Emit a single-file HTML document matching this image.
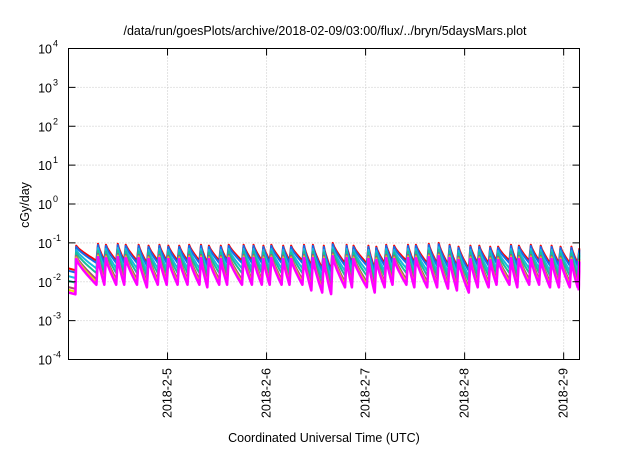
<!DOCTYPE html>
<html><head><meta charset="utf-8"><style>
body{margin:0;background:#fff;}
svg text{font-family:"Liberation Sans",sans-serif;fill:#000;}
</style></head><body>
<svg id="chart" width="640" height="448" viewBox="0 0 640 448" xmlns="http://www.w3.org/2000/svg">
<text x="325" y="35" font-size="12.5" text-anchor="middle">/data/run/goesPlots/archive/2018-02-09/03:00/flux/../bryn/5daysMars.plot</text>
<g id="grid"></g>
<g id="series"></g>
<rect x="68.5" y="48.5" width="511" height="311" fill="none" stroke="#000" stroke-width="1"/>
<g id="axes"></g>
<text transform="translate(29,205) rotate(-90)" font-size="12.5" text-anchor="middle">cGy/day</text>
<text x="324" y="442" font-size="12.5" text-anchor="middle">Coordinated Universal Time (UTC)</text>
</svg>
<script>
// data
const xTickDays = [1, 2, 3, 4, 5];
const xTickLabels = ["2018-2-5", "2018-2-6", "2018-2-7", "2018-2-8", "2018-2-9"];
const yTickExps = [-4, -3, -2, -1, 0, 1, 2, 3, 4];
const spikeDays = [0.07,0.29,0.37,0.49,0.57,0.70,0.80,0.91,1.00,1.11,1.21,1.33,1.41,1.53,1.61,1.76,1.86,1.96,2.04,2.16,2.24,2.37,2.46,2.57,2.66,2.80,2.87,3.02,3.10,3.20,3.28,3.42,3.50,3.63,3.73,3.84,3.93,4.05,4.14,4.25,4.33,4.46,4.54,4.66,4.76,4.87,4.96,5.07,5.15];
const spikePeaks = [0.085,0.095,0.09,0.095,0.09,0.09,0.085,0.09,0.085,0.085,0.09,0.09,0.085,0.085,0.09,0.09,0.09,0.085,0.09,0.085,0.085,0.09,0.09,0.085,0.1,0.09,0.085,0.085,0.08,0.09,0.085,0.09,0.09,0.095,0.1,0.09,0.08,0.085,0.085,0.08,0.08,0.09,0.085,0.09,0.085,0.085,0.08,0.08,0.07];
const spikeTroughs = [0.035,0.035,0.035,0.035,0.035,0.03,0.035,0.035,0.035,0.035,0.035,0.03,0.035,0.035,0.035,0.035,0.035,0.035,0.035,0.035,0.035,0.025,0.022,0.02,0.03,0.03,0.03,0.022,0.03,0.035,0.035,0.03,0.03,0.03,0.028,0.025,0.022,0.03,0.03,0.035,0.035,0.03,0.035,0.035,0.03,0.03,0.03,0.03,0.025];
const initialLevel = 0.022;
const seriesNames = ["red","blue","cyan","teal","brown","yellow","magenta"];
const seriesColors = ["#ff0000","#1a6ae8","#18b8e0","#18c098","#a0507a","#e8e000","#ff00ff"];
const seriesLogOffsets = [0, -0.06, -0.2, -0.32, -0.48, -0.55, -0.62];

const X0=68.5, X1=579.5, Y0=48.5, Y1=359.5, DAYS=5.16;
const xs = d => X0 + d/DAYS*(X1-X0);
const ys = v => Y1 - (Math.log10(v)+4)/8*(Y1-Y0);
const NS="http://www.w3.org/2000/svg";
const grid=document.getElementById('grid'), axes=document.getElementById('axes'), ser=document.getElementById('series');
function mk(tag, attrs, parent){const e=document.createElementNS(NS,tag);for(const k in attrs)e.setAttribute(k,attrs[k]);parent.appendChild(e);return e;}

yTickExps.forEach(e=>{
  const y=ys(Math.pow(10,e));
  if(e>-4&&e<4){const g=mk('line',{x1:X0,x2:X1,y1:y,y2:y,stroke:'#c8c8c8','stroke-dasharray':'1,2'},grid);
  
  }
  const t1=mk('line',{x1:X0,x2:X0+7,y1:y,y2:y,stroke:'#000'},axes);
  
  
  const t2=mk('line',{x1:X1-7,x2:X1,y1:y,y2:y,stroke:'#000'},axes);
  
  
  const tx=mk('text',{x:52,y:y+5,'font-size':'12.5','text-anchor':'end'},axes);
  
  
  tx.textContent='10';
  const sp=mk('text',{x:53,y:y-2,'font-size':'9'},axes);
  
  
  sp.textContent=String(e);
});
xTickDays.forEach((d,i)=>{
  const x=xs(d);
  const g=mk('line',{x1:x,x2:x,y1:Y0,y2:Y1,stroke:'#c8c8c8','stroke-dasharray':'1,2'},grid);
  
  
  const t1=mk('line',{x1:x,x2:x,y1:Y1-7,y2:Y1,stroke:'#000'},axes);
  
  
  const t2=mk('line',{x1:x,x2:x,y1:Y0,y2:Y0+7,stroke:'#000'},axes);
  
  
  const tx=mk('text',{transform:`translate(${x+4},${368}) rotate(-90)`,'font-size':'12.5','text-anchor':'end'},axes);
  
  
  tx.textContent=xTickLabels[i];
});

seriesNames.forEach((name,si)=>{
  const off=seriesLogOffsets[si];
  const val=(v,phase)=>v*Math.pow(10,off*(0.55+0.45*phase));
  const pts=[[xs(0),ys(val(initialLevel,1))],[xs(spikeDays[0]),ys(val(initialLevel*0.9,1))]];
  for(let i=0;i<spikeDays.length;i++){
    const t0=spikeDays[i], t1=i+1<spikeDays.length?spikeDays[i+1]:DAYS;
    const p=spikePeaks[i], tr=spikeTroughs[i];
    const n=8;
    for(let k=0;k<=n;k++){
      const f=k/n;
      const g=Math.pow(f,0.8);
      const lv=Math.log10(p)+(Math.log10(tr)-Math.log10(p))*g;
      pts.push([xs(t0+0.008+(t1-t0-0.016)*f), ys(val(Math.pow(10,lv),g))]);
    }
  }
  const pl=mk('polyline',{points:pts.map(q=>q[0].toFixed(1)+','+q[1].toFixed(1)).join(' '),fill:'none',stroke:seriesColors[si],'stroke-width':name==='magenta'?2.6:2,'stroke-linejoin':'round'},ser);
  
  
});
</script>
</body></html>
